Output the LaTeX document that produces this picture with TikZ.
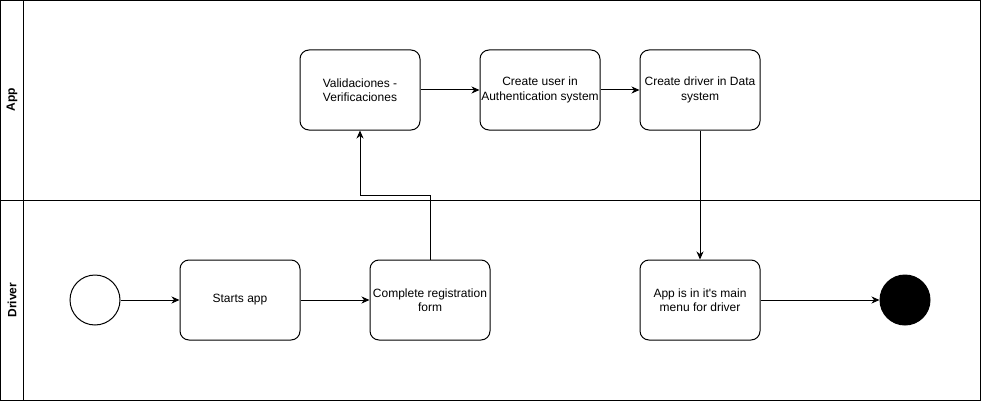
\documentclass[tikz,border=0pt]{standalone}
\usepackage{fontspec}
\setmainfont{Liberation Sans}[Ligatures=TeXOff]
\usetikzlibrary{arrows.meta,positioning}
\begin{document}
\begin{tikzpicture}[x=1pt,y=-1pt,line width=1pt,
  stepbox/.style={draw,rounded corners=9pt,minimum width=120pt,minimum height=80pt,align=center,inner sep=1pt,font=\fontsize{12}{14.5}\selectfont},
  lanelabel/.style={rotate=90,font=\fontsize{12}{14}\selectfont\bfseries},
  flow/.style={-{Stealth[length=8pt,width=7pt,inset=2.5pt]}},
  ]
\useasboundingbox (0,0) rectangle (981,401);
% lanes
\draw (0.5,0.5) rectangle (980.5,400.5);
\draw (0.5,200.5) -- (980.5,200.5);
\draw (23.5,0.5) -- (23.5,400.5);
\node[lanelabel] (lapp) at (12,100) {App};
\node[lanelabel] (ldrv) at (12,300) {Driver};
% nodes
\node[stepbox] (val) at (360,90) {Validaciones -\\Verificaciones};
\node[stepbox] (user) at (540,90) {Create user in\\Authentication system};
\node[stepbox] (drv) at (700,90) {Create driver in Data\\system};
\node[draw,circle,minimum size=50pt,inner sep=0pt] (start) at (95,300) {};
\node[stepbox] (sa) at (240,300) {Starts app};
\node[stepbox] (crf) at (430,300) {Complete registration\\form};
\node[stepbox] (menu) at (700,300) {App is in it's main\\menu for driver};
\node[draw,circle,fill=black,minimum size=50pt,inner sep=0pt] (end) at (905,300) {};
% connectors
\draw[flow] (start) -- (sa);
\draw[flow] (sa) -- (crf);
\draw[flow] (crf.north) -- (430,195) -- (360,195) -- (val.south);
\draw[flow] (val) -- (user);
\draw[flow] (user) -- (drv);
\draw[flow] (drv) -- (menu);
\draw[flow] (menu) -- (end);
\end{tikzpicture}
\end{document}
